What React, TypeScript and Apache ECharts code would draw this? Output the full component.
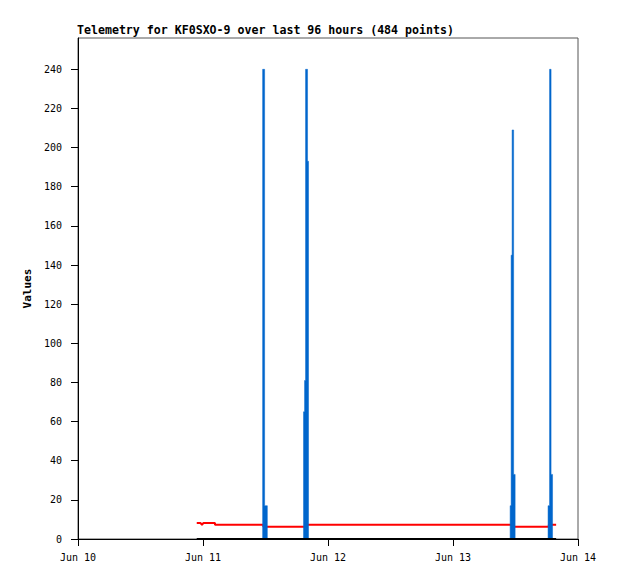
import React, { useEffect, useRef } from "react";
import * as echarts from "echarts";

// x values are hours since Jun 10 00:00
const xTickLabels = ["Jun 10", "Jun 11", "Jun 12", "Jun 13", "Jun 14"];
const yTicks = [0, 20, 40, 60, 80, 100, 120, 140, 160, 180, 200, 220, 240];

// Blue series (step: value holds until the next point)
const bluePoints: [number, number][] = [
  [22.8, 0],
  [35.45, 240], [35.83, 17], [36.35, 0],
  [43.3, 65], [43.5, 81], [43.69, 240], [44.07, 193], [44.26, 0],
  [82.97, 17], [83.16, 145], [83.35, 209], [83.64, 33], [83.93, 0],
  [90.25, 17], [90.54, 240], [90.83, 33], [91.11, 0],
  [91.8, 0],
];

// Red series
const redPoints: [number, number][] = [
  [22.8, 8.2], [23.5, 8.2], [23.8, 7.2], [24.1, 8.2], [26.3, 8.2],
  [26.3, 7.3], [35.6, 7.3],
  [35.6, 6.3], [43.9, 6.3],
  [43.9, 7.3], [83.4, 7.3],
  [83.4, 6.3], [90.4, 6.3],
  [90.4, 7.3], [91.8, 7.3],
];

// Black zero series
const blackPoints: [number, number][] = [
  [22.8, 0], [91.8, 0],
];

const titleText = "Telemetry for KF0SXO-9 over last 96 hours (484 points)";
const FONT = "DejaVu Sans Mono";

export default function App() {
  const ref = useRef<HTMLDivElement>(null);
  useEffect(() => {
    if (!ref.current) return;
    const chart = echarts.init(ref.current, undefined, { renderer: "svg" });
    chart.setOption({
      animation: false,
      backgroundColor: "#ffffff",
      title: {
        text: titleText,
        left: 64,
        top: 11,
        textStyle: { fontFamily: FONT, fontSize: 11.6, fontWeight: "bold", color: "#000" },
      },
      grid: {
        left: 70,
        right: 32,
        top: 30,
        bottom: 32,
        show: true,
        borderColor: "#555555",
        borderWidth: 1,
        containLabel: false,
      },
      xAxis: {
        type: "value",
        min: 0,
        max: 96,
        interval: 24,
        axisLine: { show: true, lineStyle: { color: "#000", width: 1 } },
        axisTick: { show: true, length: 7, lineStyle: { color: "#000" } },
        splitLine: { show: false },
        axisLabel: {
          margin: 13,
          fontFamily: FONT,
          fontSize: 10,
          color: "#000",
          formatter: (v: number) => xTickLabels[Math.round(v / 24)] ?? "",
        },
      },
      yAxis: {
        type: "value",
        min: 0,
        max: 256,
        interval: 20,
        name: "Values",
        nameLocation: "middle",
        nameGap: 33,
        nameTextStyle: { fontFamily: FONT, fontSize: 11, fontWeight: "bold", color: "#000" },
        axisLine: { show: true, lineStyle: { color: "#000", width: 1 } },
        axisTick: { show: true, length: 7, lineStyle: { color: "#000" } },
        splitLine: { show: false },
        axisLabel: {
          margin: 16,
          showMaxLabel: false,
          fontFamily: FONT,
          fontSize: 10,
          color: "#000",
          formatter: (v: number) => (yTicks.includes(v) ? String(v) : ""),
        },
      },
      series: [
        {
          type: "line",
          data: bluePoints,
          step: "end",
          symbol: "none",
          lineStyle: { color: "#0066CC", width: 0.5 },
          areaStyle: { color: "#0066CC", opacity: 1, origin: 0 },
          z: 3,
        },
        {
          type: "line",
          data: redPoints,
          symbol: "none",
          lineStyle: { color: "#FF0000", width: 2 },
          z: 2,
        },
        {
          type: "line",
          data: blackPoints,
          symbol: "none",
          lineStyle: { color: "#000000", width: 2 },
          z: 4,
        },
      ],
    });
    return () => chart.dispose();
  }, []);
  return <div ref={ref} style={{ width: 602, height: 563 }} />;
}
